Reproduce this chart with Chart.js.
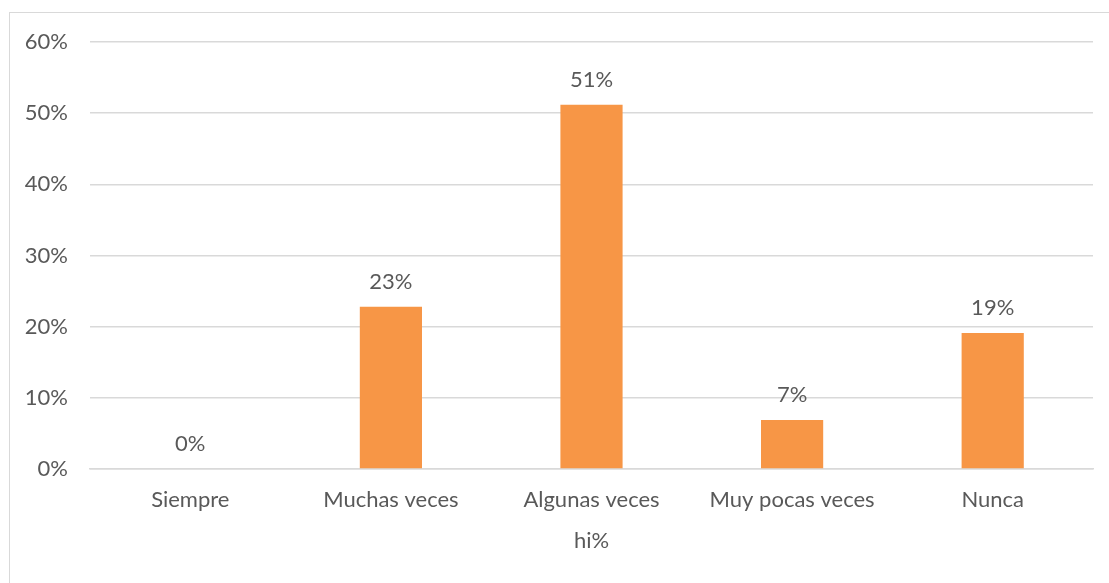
<!DOCTYPE html>
<html>
<head>
<meta charset="utf-8">
<script src="https://cdn.jsdelivr.net/npm/chart.js@4/dist/chart.umd.min.js"></script>
<style>
  html, body { margin: 0; padding: 0; background: #fff; }
  #wrap { position: relative; width: 1109px; height: 583px; overflow: hidden; }
  #frame { position: absolute; left: 9px; top: 12px; width: 1200px; height: 700px;
           border-left: 1px solid #d9d9d9; border-top: 1px solid #d9d9d9; }
  canvas { position: absolute; left: 0; top: 0; }
</style>
</head>
<body>
<div id="wrap">
  <div id="frame"></div>
  <canvas id="c" width="1109" height="583"></canvas>
</div>
<script>
const categories = ['Siempre', 'Muchas veces', 'Algunas veces', 'Muy pocas veces', 'Nunca'];
const hiPercent = [0, 22.8, 51.2, 6.9, 19.1];
const yTicks = [0, 10, 20, 30, 40, 50, 60];

const FONT = 'Lato, "Open Sans", sans-serif';
const TEXT = '#595959';

// Percent labels above each bar
const barLabels = {
  id: 'barLabels',
  afterDatasetsDraw(chart) {
    const ctx = chart.ctx;
    const meta = chart.getDatasetMeta(0);
    ctx.save();
    ctx.font = '22px ' + FONT;
    ctx.fillStyle = TEXT;
    ctx.textAlign = 'center';
    ctx.textBaseline = 'middle';
    meta.data.forEach((bar, i) => {
      const v = chart.data.datasets[0].data[i];
      ctx.fillText(Math.round(v) + '%', bar.x, bar.y - 25);
    });
    ctx.restore();
  }
};

new Chart(document.getElementById('c'), {
  type: 'bar',
  data: {
    labels: categories,
    datasets: [{
      label: 'hi%',
      data: hiPercent,
      backgroundColor: '#F79646',
      barPercentage: 0.62,
      categoryPercentage: 0.5
    }]
  },
  options: {
    responsive: false,
    animation: false,
    devicePixelRatio: 1,
    layout: { padding: { top: 42, right: 16, bottom: 29, left: 0 } },
    plugins: { legend: { display: false }, tooltip: { enabled: false } },
    scales: {
      x: {
        grid: { display: false, drawTicks: false },
        border: { display: true, color: '#d9d9d9', width: 1.5 },
        ticks: { color: TEXT, font: { family: FONT, size: 22 }, padding: 18 },
        title: { display: true, text: 'hi%', color: TEXT, font: { family: FONT, size: 22 }, padding: 0 },
        afterFit(scale) { scale.height = 583 - 469 - 29; }
      },
      y: {
        min: 0, max: 60,
        afterBuildTicks(scale) { scale.ticks = yTicks.map(v => ({ value: v })); },
        grid: { color: '#d9d9d9', lineWidth: 1.5, drawTicks: false },
        border: { display: false },
        ticks: {
          color: TEXT, font: { family: FONT, size: 22 }, padding: 22,
          callback: v => v + '%'
        },
        afterFit(scale) { scale.width = 90; }
      }
    }
  },
  plugins: [barLabels]
});
</script>
</body>
</html>
